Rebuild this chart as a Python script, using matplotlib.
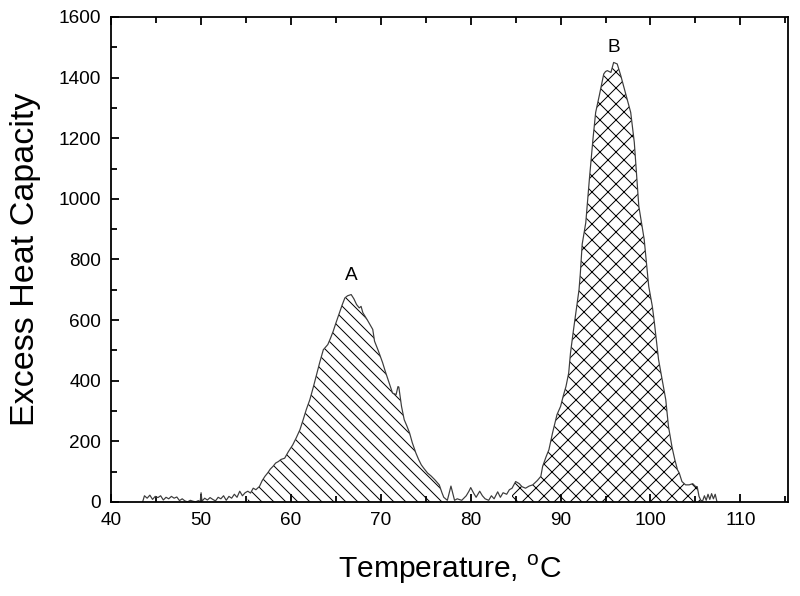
import matplotlib
matplotlib.use("Agg")
import matplotlib.pyplot as plt
from matplotlib.ticker import MultipleLocator
import numpy as np

plt.rcParams['font.family'] = ['Liberation Sans', 'DejaVu Sans']
plt.rcParams['mathtext.fontset'] = 'custom'
plt.rcParams['mathtext.rm'] = 'Liberation Sans'
plt.rcParams['hatch.linewidth'] = 0.5

# DSC trace (temperature in C, excess heat capacity)
temp = [43.5, 43.7, 44.0, 44.3, 44.6, 44.9, 45.2, 45.5, 45.8, 46.1, 46.4, 46.7,
        47.0, 47.3, 47.6, 47.9, 48.2, 48.5, 48.8, 49.1, 49.4, 49.7, 49.9, 50.0,
        50.1, 50.4, 50.7, 51.0, 51.3, 51.6, 51.9, 52.2, 52.5, 52.8, 53.1, 53.4,
        53.7, 54.0, 54.3, 54.6, 54.9,
        55.2, 55.5, 55.8, 56.1, 56.5, 56.8, 57.1, 57.4, 57.7, 58.0, 58.3, 58.6,
        58.9, 59.3, 59.7, 60.2, 60.6, 61.0, 61.4, 61.7, 62.1, 62.5, 62.8, 63.2,
        63.6, 64.1, 64.4, 64.7, 65.0, 65.4, 65.7, 66.0, 66.3, 66.7, 67.0, 67.3,
        67.6, 67.8, 68.0, 68.5, 69.1, 69.3, 69.7, 70.2, 70.5, 70.8, 71.3, 71.7,
        71.9, 72.0, 72.3, 72.6, 72.9, 73.2, 73.5, 73.9, 74.2, 74.5, 74.8, 75.2,
        75.6, 76.0, 76.5, 76.8, 77.0,
        77.4, 77.8, 78.2, 78.5, 79.0, 79.5, 79.8, 80.0, 80.3, 80.6, 81.0, 81.3,
        81.6, 82.0, 82.3, 82.6, 83.0, 83.3, 83.6, 84.0, 84.3, 84.6,
        85.0, 85.4, 85.7, 86.1, 86.5, 86.9, 87.4, 87.8, 88.0, 88.4, 88.7, 89.1,
        89.6, 90.0, 90.3, 90.6, 90.9, 91.1, 91.4, 91.7, 92.05, 92.2, 92.4, 92.8,
        93.2, 93.6, 93.9, 94.3, 94.8, 95.0, 95.2, 95.6, 95.9, 96.3, 96.7, 97.2,
        97.8, 98.2, 98.7, 99.3, 99.8, 100.2, 100.4, 100.9, 101.5, 101.7, 102.0,
        102.4, 102.7, 103.0, 103.2, 103.5, 103.9, 104.3, 104.7, 105.0, 105.2,
        105.4, 105.6,
        105.8, 106.0, 106.2, 106.4, 106.6, 106.8, 107.0, 107.2, 107.4]
cp = [0, 20, 12, 22, 8, 18, 14, 20, 6, 15, 10, 18,
      12, 16, 4, 10, 3, 0, 5, 2, 0, 4, 0, 30,
      2, 12, 6, 14, 8, 3, 15, 10, 20, 5, 18, 12,
      25, 15, 35, 20, 30,
      35, 29, 45, 40, 51, 70, 84, 95, 108, 117, 128, 133,
      140, 144, 165, 188, 212, 238, 275, 304, 337, 380, 414, 460,
      502, 519, 540, 563, 590, 624, 650, 673, 680, 684, 670, 651,
      640, 645, 624, 600, 569, 530, 500, 459, 430, 403, 359, 354,
      380, 379, 315, 271, 250, 227, 195, 161, 140, 122, 110, 95,
      85, 73, 56, 30, 15,
      5, 52, 5, 10, 5, 20, 35, 47, 30, 15, 35, 20,
      10, 5, 20, 10, 33, 15, 30, 25, 40, 45,
      67, 60, 50, 45, 52, 56, 70, 84, 117, 150, 172, 227,
      288, 315, 350, 381, 425, 491, 560, 624, 700, 756, 850, 921,
      1064, 1197, 1285, 1340, 1412, 1420, 1423, 1417, 1450, 1445, 1406, 1351,
      1285, 1186, 976, 866, 712, 646, 600, 469, 370, 337, 249,
      180, 140, 106, 95, 67, 56, 56, 60, 51, 50,
      18, 5,
      3, 20, 5, 25, 8, 27, 10, 25, 0]

peak_a = (55.0, 77.0)
peak_b = (84.5, 105.6)
labels = ['A', 'B']
label_pos = [(66.7, 720), (95.9, 1470)]

t = np.array(temp)
y = np.array(cp)

dpi = 144
fig = plt.figure(figsize=(800 / dpi, 596 / dpi), dpi=dpi)
ax = fig.add_axes([0.139, 0.158, 0.846, 0.8135])

ma = (t >= peak_a[0]) & (t <= peak_a[1])
mb = (t >= peak_b[0]) & (t <= peak_b[1])
ax.fill_between(t, 0, y, where=ma, facecolor='none', edgecolor='k',
                hatch='\\\\\\\\', linewidth=0)
ax.fill_between(t, 0, y, where=mb, facecolor='none', edgecolor='k',
                hatch='xxx', linewidth=0)
ax.plot(t, y, color='#3c3c3c', lw=0.6)

for lab, (x0, y0) in zip(labels, label_pos):
    ax.text(x0, y0, lab, ha='center', va='bottom', fontsize=9.5)

ax.set_xlim(40, 115.3)
ax.set_ylim(0, 1600)
ax.xaxis.set_major_locator(MultipleLocator(10))
ax.xaxis.set_minor_locator(MultipleLocator(5))
ax.yaxis.set_major_locator(MultipleLocator(200))
ax.yaxis.set_minor_locator(MultipleLocator(100))
ax.tick_params(which='both', direction='in', top=True, right=False,
               labelsize=9.5, width=0.9)
ax.tick_params(which='major', length=4, pad=5)
ax.tick_params(which='minor', length=3)
for s in ax.spines.values():
    s.set_linewidth(0.9)

ax.set_xlabel('Temperature, $^{\\mathrm{o}}$C', fontsize=15, labelpad=12)
ax.set_ylabel('Excess Heat Capacity', fontsize=17, labelpad=9)

fig.savefig('out.png', dpi=dpi)
